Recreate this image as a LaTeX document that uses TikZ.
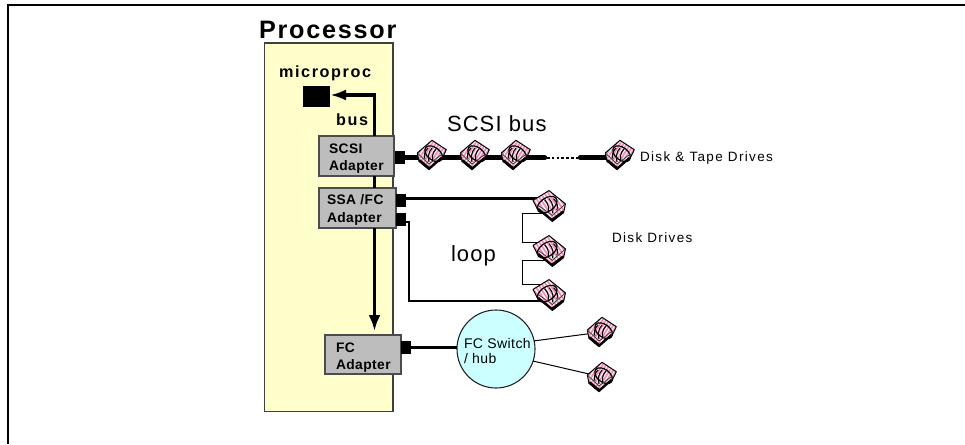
\documentclass[tikz,border=0pt]{standalone}
\usepackage{fontspec}
\setmainfont{Liberation Sans}
\newfontfamily\wideA[LetterSpace=7]{Liberation Sans}
\newfontfamily\wideB[LetterSpace=10]{Liberation Sans}
\newfontfamily\wideC[LetterSpace=3]{Liberation Sans}
\newfontfamily\wideD[LetterSpace=5]{Liberation Sans}
\newcommand{\fs}[1]{\fontsize{#1}{#1}\selectfont}
\usetikzlibrary{arrows.meta}
\definecolor{procfill}{HTML}{FFFFCC}
\definecolor{adfill}{HTML}{BDBDBD}
\definecolor{hubfill}{HTML}{CCFFFF}
\definecolor{drivepink}{HTML}{EE90B8}
\tikzset{
  lbl/.style={anchor=base west,inner sep=0pt,outer sep=0pt,text=black},
  title/.style={lbl,font=\wideA\bfseries\fs{25.2}},
  sub/.style={lbl,font=\wideB\bfseries\fs{16.2}},
  adtext/.style={lbl,font=\wideC\bfseries\fs{13.8}},
  big/.style={lbl,font=\wideD\fs{22}},
  small/.style={lbl,font=\wideB\fs{13.5}},
  hubtext/.style={lbl,font=\wideC\fs{14}},
  procbox/.style={draw=black!75,line width=1.3pt,fill=procfill,inner sep=0pt,outer sep=0pt,minimum width=128.5pt,minimum height=368.5pt},
  adbox/.style={draw=black!70,line width=1.1pt,fill=adfill,inner sep=0pt,outer sep=0pt},
  port/.style={fill=black,inner sep=0pt,outer sep=0pt,minimum width=9.5pt,minimum height=13pt},
  buswire/.style={line width=3.4pt,black},
  mid wire/.style={line width=2.3pt,black},
  hair wire/.style={line width=1pt,black},
  drive/.pic={
    \path[fill=white] (0,-14.7) -- (14.3,-5.3) -- (10.3,3) -- (-3,14.7) -- (-13,6.3) -- (-14.7,-2) -- cycle;
    \begin{scope}
      \clip (0,-14.7) -- (14.3,-5.3) -- (10.3,3) -- (-3,14.7) -- (-13,6.3) -- (-14.7,-2) -- cycle;
      \foreach \k in {-21,-17.5,...,21}
        \draw[drivepink,line width=1.8pt] (\k-10,16) -- (\k+10,-16);
    \end{scope}
    \draw[black,line width=1pt,line join=round] (0,-14.7) -- (14.3,-5.3) -- (10.3,3) -- (-3,14.7) -- (-13,6.3) -- (-14.7,-2) -- cycle;
    \draw[black,line width=1.2pt,rotate=-38] (0.5,-2) ellipse (10 and 6.3);
    \draw[black,line width=1pt] (-4,-7) .. controls (-8,-3) and (-8,1) .. (-7,4)
      (0,-7) .. controls (-4,-3) and (-4,3) .. (-3,7)
      (4,-6) .. controls (0,-2) and (0,3) .. (1,6);
    \draw[black,line width=2.6pt,line cap=round] (-12.5,5.5) -- (-3,13.2);
    \draw[black,line width=1.6pt] (-3,13.2) -- (9.5,2.5);
    \draw[black!80,line width=.7pt] (-14.7,-2) -- (-3,9) -- (10.3,-1);
  }
}
\begin{document}
\begin{tikzpicture}[x=1pt,y=-1pt]
\useasboundingbox (0,0) rectangle (965,444);
% page frame
\coordinate (fa) at (8,444);
\coordinate (fb) at (8,5);
\coordinate (fc) at (965,5);
\draw[line width=2pt,miter limit=10] (fa) -- (fb) -- (fc);
% processor
\node[procbox,anchor=north west] (proc) at (264.5,43) {};
\node[title] (tproc) at (259,39) {Processor};
\node[sub] (tmicro) at (279,77) {microproc};
\node[sub] (tbus) at (336,125) {bus};
% micro block
\node[fill=black,inner sep=0pt,outer sep=0pt,minimum width=27pt,minimum height=21pt,anchor=north west] (micro) at (303,86) {};
% adapters
\node[adbox,anchor=north west,minimum width=75pt,minimum height=40pt] (scsi) at (319,136) {};
\node[adbox,anchor=north west,minimum width=77pt,minimum height=40pt] (ssa) at (319,188) {};
\node[adbox,anchor=north west,minimum width=76pt,minimum height=39pt] (fca) at (325,335) {};
% bus
\coordinate (busc) at (374.5,95);
\coordinate (busa) at (374.5,136);
\coordinate (busb) at (374.5,188);
\coordinate (busd) at (374.5,228);
\coordinate (buse) at (374.5,331);
\draw[buswire,-{Latex[length=16pt,width=11pt]},line join=miter] (busa) -- (busc) -- (micro.east |- busc);
\draw[buswire] (busa |- scsi.south) -- (busb);
\draw[buswire,-{Latex[length=16pt,width=12pt]}] (busd) -- (buse);
% ports
\node[port,anchor=west] (p1) at (395,157) {};
\node[port,anchor=west] (p2) at (396,200.5) {};
\node[port,anchor=west] (p3) at (396,219.5) {};
\node[port,anchor=west] (p4) at (401,347.5) {};
% adapter labels
\node[adtext] (l1a) at (329,153) {SCSI};
\node[adtext] (l1b) at (329,170) {Adapter};
\node[adtext] (l2a) at (327,204) {SSA /FC};
\node[adtext] (l2b) at (327,222) {Adapter};
\node[adtext] (l3a) at (336,352) {FC};
\node[adtext] (l3b) at (336,369) {Adapter};
% drive anchors
\coordinate (d1) at (432,155);
\coordinate (d2) at (475,155);
\coordinate (d3) at (516,155);
\coordinate (d4) at (620,155);
\coordinate (d5) at (549,206);
\coordinate (d6) at (549,251);
\coordinate (d7) at (549,295);
\coordinate (d8) at (602,332);
\coordinate (d9) at (602,377);
% SCSI bus
\coordinate (sa) at (547,157.7);
\coordinate (sb) at (578,157.7);
\draw[line width=5.5pt,line cap=round] (p1.east |- sa) -- (544.5,157.7);
\draw[line width=1.7pt,dash pattern=on 2.6pt off 2.2pt] (sa) -- (sb);
\draw[line width=5.5pt,line cap=round] (580.5,157.7) -- (d4 |- sa);
% loop
\coordinate (la) at (522,213.5);
\coordinate (lb) at (522,242);
\coordinate (lc) at (522,260);
\coordinate (ld) at (522,284);
\coordinate (le) at (409,222);
\coordinate (lf) at (409,301);
\draw[mid wire] (p2.east |- 0,198.5) -- (d5 |- 0,198.5);
\draw[hair wire] (d5 |- la) -- (la) -- (lb) -- (d6 |- lb);
\draw[hair wire] (d6 |- lc) -- (lc) -- (ld) -- (d7 |- ld);
\draw[mid wire] (p3.east |- le) -- (le) -- (lf) -- (d7 |- lf);
% hub
\node[draw=black!85,line width=1.1pt,fill=hubfill,circle,inner sep=0pt,outer sep=0pt,minimum size=78pt] (hub) at (496,349) {};
\draw[mid wire] (p4.east) -- (hub.west |- p4.east);
\draw[hair wire] (hub.12) -- (d8);
\draw[hair wire] (hub.-18) -- (d9);
\node[hubtext] (h1) at (464,348) {FC Switch};
\node[hubtext] (h2) at (464,363) {/ hub};
% drives
\foreach \n in {d1,d2,d3,d4,d8,d9} \pic at (\n) {drive};
\foreach \n in {d5,d6,d7} \pic[xscale=-1.12,yscale=1.05] at (\n) {drive};
% free labels
\node[big] (tscsi) at (447,131) {SCSI bus};
\node[big] (tloop) at (451,261) {loop};
\node[small] (tdt) at (640,161) {Disk \& Tape Drives};
\node[small] (tdd) at (612,242) {Disk Drives};
\end{tikzpicture}
\end{document}
